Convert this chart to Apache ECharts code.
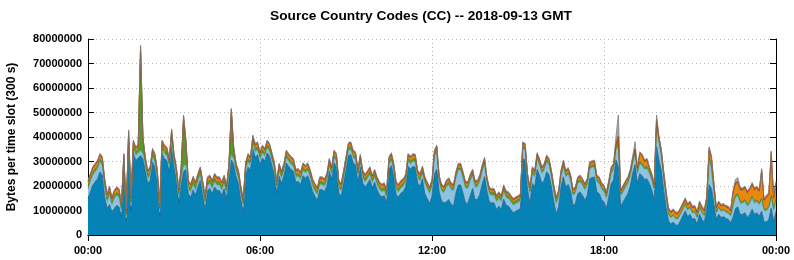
<!DOCTYPE html>
<html><head><meta charset="utf-8">
<script src="https://cdn.jsdelivr.net/npm/echarts@6/dist/echarts.min.js"></script>
<style>html,body{margin:0;padding:0;background:#fff}#c{width:794px;height:260px}</style>
</head><body><div id="c"></div>
<script>
const chartTitle = 'Source Country Codes (CC) -- 2018-09-13 GMT';
const yAxisName = 'Bytes per time slot (300 s)';
const xTickLabels = ['00:00', '06:00', '12:00', '18:00', '00:00'];
const slotMinutes = 5;
const slotCount = 289;

// Millions of bytes per 5-minute slot, 289 slots (00:00 .. 24:00), one row per hour
const blue = [
14.8,17.6,20.3,21.7,23,25.7,24.4,15.4,10.9,12.4,9.5,10.8,
12.1,11.4,7.4,27.7,5.9,36.8,10,33.2,30.4,31.4,32.4,30.9,
26.4,20.9,22.3,29.8,27.7,21.4,7.4,33.2,31.1,30.4,25.7,36.2,
27.7,22.3,13.4,20.8,25.9,26.7,16.8,15.4,18.4,16.2,19.6,22.3,
16.8,10.4,18.2,18.9,16.8,19.6,18.2,18.2,16.2,18.9,14.8,23.2,
30.6,28.9,23.7,20.9,14.4,9.4,24.3,27.7,26.4,35.2,31.8,32.7,
28.7,31.4,30.1,33.5,32.1,28.3,24.6,17.1,24,21,24,29.4,
28,26.7,26,21.5,21.9,20.6,24.2,23.3,24.2,21.5,17.8,15.8,
14.2,18.5,18.5,17.8,19.9,26,22.6,29.4,28,17.1,15.8,21.2,
26.7,32.4,32.8,29.4,28.7,21.9,27.7,21.2,19.6,21,22.6,19.2,
21.5,18.5,16.5,15.5,16.1,13.1,26.7,28.3,24,16.5,15.5,17.1,
17.8,19.6,28,26.9,28,27.7,21.2,19.9,22.9,16.9,14.9,12.8,
15.8,24.8,26.8,17.6,13.9,13.1,13.5,14.5,12.5,11.9,17,20.4,
20.4,17,13.1,12.9,16,19,14.5,14.5,16.6,20.7,23.8,17.9,
13.6,13.1,13.1,10.4,11.8,10.4,14.6,12.2,11.8,10.4,9.1,9.7,
10.2,10.8,31.1,30.6,18.3,12.8,21,19.6,26.7,24.4,21,22.4,
25.8,24.4,19.6,13.5,8.7,11.5,19.6,23.7,19.6,20.7,18,12.1,
12.8,16.9,17.6,16.2,14.2,16.2,23,23.4,23.7,17.6,16.9,14.5,
13.5,10.8,15.5,21,22.4,30.7,28,11.7,13.5,15.3,16.9,19.9,
25.1,28.7,21,25.1,24.1,22.7,22.9,21,18.3,14.2,36.1,30.5,
26.1,18.2,11.1,5.8,4.4,5.3,4,4,5.8,7.8,9.8,7.5,
8.5,6.4,6.7,4.4,8.5,6.4,5.1,10.5,20.5,18.9,12.6,6.4,
8.5,7.1,7.5,6.7,6.4,5.1,7.1,10.8,11.5,8.4,8.4,9.1,
7.1,8.4,10.5,8.4,9.1,7.7,9.7,5.4,5.3,6.4,10.9,5.5,
9.6
];
const lightBlue = [
4,4,4,4,4,4,4,4,2.5,4,2.5,4,
4,4,2,2,1,2,2,2,2,2,2,2,
2,2,2,2,2,2,2,2,2,2,2,2,
2,2,2,2,2,2,2,2,2,2,2,2,
2,2,2,2,2,2,2,2,2,2,2,2,
2,2,2,2,2,2,2,2,2,2,2,2,
2,2,2,2,2,2,2,2,2,2,2,2,
2,2,2,2,2,2,2,2,2,2,2,2,
2,2,2,2,2,2,2,2,2,2,2,2,
2,2,2,2,2,2,2,2,2,2,2,2,
2,2,2,2,2,2,2,2,2,2,2,2,
2,2,2,2,2,2,2,2,2,4,4,4,
4,7,7,4,4,4,6,6,6,6,6,6,
6,6,6,6,6,5,5,5,5,5,5,3,
3,3,3,3,3,3,3,3,3,3,3,3,
3,3,4,4,4,4,4,4,4,4,4,4,
4,4,4,4,4,4,4,4,4,4,4,4,
4,4,4,4,4,4,4,4,4,4,4,4,
4,4,4,4,4,4,8,4,4,4,4,4,
4,4,4,4,4,4,4,4,4,4,9,7,
6,5,4,2.5,2.5,2.5,2.5,2.5,2.5,2.5,2.5,2.5,
2.5,2.5,2.5,2.5,2.5,2.5,2.5,2.5,10,8,5,2.5,
2.5,2.5,2.5,2.5,2.5,2.5,4.5,4.5,4.5,4.5,4.5,4.5,
4.5,4.5,4.5,4.5,4.5,4.5,4.5,4.5,4.5,4.5,4.5,4.5,
4.5
];
const green = [
1.2,1.2,1.2,1.2,1.2,1.2,1.2,1.2,1.2,1.2,1.2,1.2,
1.2,1.2,1.5,1.5,1.5,2,1.5,1.5,1.5,1.5,41,5,
1.5,1.5,1.5,1.5,1.5,1.5,1.5,1.5,1.5,1.5,1.5,3,
1.5,1.5,1.5,3,19,8,1.5,1.5,1.5,1.5,1.5,1.5,
1.5,1.5,1.5,1.5,1.5,1.5,1.5,1.5,1.5,1.5,1.5,2,
17,3,1.5,1.5,1.5,1.5,1.5,1.5,1.5,1.5,1.5,1.2,
1.2,1.2,1.2,1.2,1.2,1.2,1.2,1.2,1.2,1.2,1.2,1.2,
1.2,1.2,1.2,1.2,1.2,1.2,1.2,1.2,1.2,1.2,1.2,1.2,
1.2,1.2,1.2,1.2,1.2,1.2,1.2,1.2,1.2,1.2,1.2,1.2,
1.2,1.2,1.2,1.2,1.2,1.2,1.2,1.2,1.2,1.2,1.2,1.2,
1.2,1.2,1.2,1.2,1.2,1.2,1.2,1.2,1.2,1.2,1.2,1.2,
1.2,1.2,1.2,1.2,1.2,1.2,1.2,1.2,1.2,1,1,1,
1,1,1,1,1,1,1,1,1,1,1,1,
1,1,1,1,1,1.2,1.2,1.2,1.2,1.2,1.2,1.2,
1.2,1.2,1.2,1.2,1.2,1.2,1.2,1.2,1.2,1.2,1.2,1.2,
1.2,1.2,1,1,1,1,1,1,1,1,1,1,
1,1,1,1,1,1,1,1,1,1,1,1,
1,1,1,1,1,1,1,1,1,1,1,1,
1,1,1,1,1,1,3,1,1,1,1,1,
1,1,1,1,1,1,1,1,1,1,1,1,
1,0.5,0.5,0.5,0.5,0.5,0.5,0.5,0.5,0.5,0.5,0.5,
0.5,0.5,0.5,0.5,0.5,0.5,0.5,0.5,1,1,0.8,0.5,
0.5,0.5,0.5,0.5,0.5,0.5,0.8,0.8,0.8,0.8,0.8,0.8,
0.8,0.8,0.8,0.8,0.8,0.8,0.8,0.8,0.8,0.8,0.8,0.8,
0.8
];
const orange = [
1.5,1.5,1.5,1.5,1.5,1.5,1.5,1.5,1.5,1.5,1.5,1.5,
1.5,1.5,1.2,1.2,1.2,1.2,1.2,1.2,1.2,1.2,1.2,1.2,
1.2,1.2,1.2,1.2,1.2,1.2,1.2,1.2,1.2,1.2,1.2,1.2,
1.2,1.2,1.2,1.2,1.2,1.2,1.2,1.2,1.2,1.2,1.2,1.2,
1.2,1.2,1.2,1.2,1.2,1.2,1.2,1.2,1.2,1.2,1.2,1.2,
1.2,1.2,1.2,1.2,1.2,1.2,1.2,1.2,1.2,1.2,1.2,1.2,
1.2,1.2,1.2,1.2,1.2,1.2,1.2,1.2,1.2,1.2,1.2,1.2,
1.2,1.2,1.2,1.2,1.2,1.2,1.2,1.2,1.2,1.2,1.2,1.2,
1.2,1.2,1.2,1.2,1.2,1.2,1.2,1.2,1.2,1.2,1.2,1.2,
1.2,1.2,1.2,1.2,1.2,1.2,1.2,1.2,1.2,1.2,1.2,1.2,
1.2,1.2,1.2,1.2,1.2,1.2,1.2,1.2,1.2,1.2,1.2,1.2,
1.2,1.2,1.2,1.2,1.2,1.2,1.2,1.2,1.2,1,1,1,
1,1,1,1,1,1,1,1,1,1,1,1,
1,1,1,1,1,0.8,0.8,0.8,0.8,0.8,0.8,0.8,
0.8,0.8,0.8,0.8,0.8,0.8,0.8,0.8,0.8,0.8,0.8,0.8,
0.8,0.8,1,1,1,1,1,1,1,1,1,1,
1,1,1,1,1,1,1,1,1,1,1,1,
1,1,1,1,1,1,1,1,1,1,1,1,
1,1,1,1,1,1,1,1,1,1,1,1,
1,1,1,3,3,2,2.5,1,1,1,1,1,
1,1.5,1.5,1.5,1.5,1.5,1.5,1.5,1.5,1.5,1.5,1.5,
1.5,1.5,1.5,1.5,1.5,1.5,1.5,1.5,3,3,2,1.5,
1.5,1.5,1.5,1.5,1.5,1.5,4.5,4.5,4.5,4.5,4.5,4.5,
4.5,4.5,4.5,4.5,4.5,4.5,11,3,4.5,4.5,17,4,
6
];
const red = [
0.4,0.4,0.4,0.4,0.4,0.4,0.4,0.4,0.4,0.4,0.4,0.4,
0.4,0.4,0.4,0.4,0.4,0.4,0.4,0.4,0.4,0.4,0.4,0.4,
0.4,0.4,0.4,0.4,0.4,0.4,0.4,0.4,0.4,0.4,0.4,0.4,
0.4,0.4,0.4,0.4,0.4,0.4,0.4,0.4,0.4,0.4,0.4,0.4,
0.4,0.4,0.4,0.4,0.4,0.4,0.4,0.4,0.4,0.4,0.4,0.4,
0.4,0.4,0.4,0.4,0.4,0.4,0.4,0.4,0.4,0.4,0.4,0.4,
0.4,0.4,0.4,0.4,0.4,0.4,0.4,0.4,0.4,0.4,0.4,0.4,
0.4,0.4,0.4,0.4,0.4,0.4,0.4,0.4,0.4,0.4,0.4,0.4,
0.4,0.4,0.4,0.4,0.4,0.4,0.4,0.4,0.4,0.4,0.4,0.4,
0.4,0.4,0.4,0.4,0.4,0.4,0.4,0.4,0.4,0.4,0.4,0.4,
0.4,0.4,0.4,0.4,0.4,0.4,0.4,0.4,0.4,0.4,0.4,0.4,
0.4,0.4,0.4,0.4,0.4,0.4,0.4,0.4,0.4,0.4,0.4,0.4,
0.4,0.4,0.4,0.4,0.4,0.4,0.4,0.4,0.4,0.4,0.4,0.4,
0.4,0.4,0.4,0.4,0.4,0.4,0.4,0.4,0.4,0.4,0.4,0.4,
0.4,0.4,0.4,0.4,0.4,0.4,0.4,0.4,0.4,0.4,0.4,0.4,
0.4,0.4,0.4,0.4,0.4,0.4,0.4,0.4,0.4,0.4,0.4,0.4,
0.4,0.4,0.4,0.4,0.4,0.4,0.4,0.4,0.4,0.4,0.4,0.4,
0.4,0.4,0.4,0.4,0.4,0.4,0.4,0.4,0.4,0.4,0.4,0.4,
0.4,0.4,0.4,0.4,0.4,0.4,0.4,0.4,0.4,0.4,0.4,0.4,
0.4,0.4,0.4,0.4,0.4,0.4,0.4,0.4,0.4,0.4,0.4,0.4,
0.4,0.4,0.4,0.4,0.4,0.4,0.4,0.4,0.4,0.4,0.4,0.4,
0.4,0.4,0.4,0.4,0.4,0.4,0.4,0.4,1,0.8,0.5,0.4,
0.4,0.4,0.4,0.4,0.4,0.4,0.6,0.6,0.6,0.6,0.6,0.6,
0.6,0.6,0.6,0.6,0.6,0.6,0.6,0.6,0.6,0.6,0.6,0.6,
0.6
];
const gray = [
0.5,0.5,0.5,0.5,0.5,0.5,0.5,0.5,0.5,0.5,0.5,0.5,
0.5,0.5,0.5,0.5,0.5,0.5,0.5,0.5,0.5,0.5,0.5,0.5,
0.5,0.5,0.5,0.5,0.5,0.5,0.5,0.5,0.5,0.5,0.5,0.5,
0.5,0.5,0.5,0.5,0.5,0.5,0.5,0.5,0.5,0.5,0.5,0.5,
0.5,0.5,0.5,0.5,0.5,0.5,0.5,0.5,0.5,0.5,0.5,0.5,
0.5,0.5,0.5,0.5,0.5,0.5,0.5,0.5,0.5,0.5,0.5,0.5,
0.5,0.5,0.5,0.5,0.5,0.5,0.5,0.5,0.5,0.5,0.5,0.5,
0.5,0.5,0.5,0.5,0.5,0.5,0.5,0.5,0.5,0.5,0.5,0.5,
0.5,0.5,0.5,0.5,0.5,0.5,0.5,0.5,0.5,0.5,0.5,0.5,
0.5,0.5,0.5,0.5,0.5,0.5,0.5,0.5,0.5,0.5,0.5,0.5,
0.5,0.5,0.5,0.5,0.5,0.5,0.5,0.5,0.5,0.5,0.5,0.5,
0.5,0.5,0.5,0.5,0.5,0.5,0.5,0.5,0.5,0.5,0.5,0.5,
0.5,0.5,0.5,0.5,0.5,0.5,0.5,0.5,0.5,0.5,0.5,0.5,
0.5,0.5,0.5,0.5,0.5,0.5,0.5,0.5,0.5,0.5,0.5,0.5,
0.5,0.5,0.5,0.5,0.5,0.5,0.5,0.5,0.5,0.5,0.5,0.5,
0.5,0.5,0.5,0.5,0.5,0.5,0.5,0.5,0.5,0.5,0.5,0.5,
0.5,0.5,0.5,0.5,0.5,0.5,0.5,0.5,0.5,0.5,0.5,0.5,
0.5,0.5,0.5,0.5,0.5,0.5,0.5,0.5,0.5,0.5,0.5,0.5,
0.5,0.5,0.5,0.5,0.5,3,8.6,0.5,0.5,0.5,0.5,0.5,
0.5,3,0.5,0.5,0.5,0.5,0.5,0.5,0.5,0.5,1.5,0.5,
0.5,0.5,0.5,0.5,0.5,0.5,0.5,0.5,0.5,0.5,0.5,0.5,
0.5,0.5,0.5,0.5,0.5,0.5,0.5,0.5,0.5,0.5,0.5,0.5,
0.5,0.5,0.5,0.5,0.5,0.5,0.5,1.5,1.5,0.5,0.5,0.5,
0.5,0.5,0.5,0.5,0.5,0.5,0.5,0.5,0.5,0.5,0.5,0.5,
0.5
];

// time-slot categories 00:00, 00:05, ... 24:00
const slots = [];
for (let i = 0; i < slotCount; i++) {
  const m = i * slotMinutes;
  slots.push(String(Math.floor(m / 60)).padStart(2, '0') + ':' + String(m % 60).padStart(2, '0'));
}

const FONT = '"Liberation Sans", Arial, sans-serif';
const layers = [
  { name: 'blue',      data: blue,      fill: '#0583b6', line: '#1d5d85' },
  { name: 'lightBlue', data: lightBlue, fill: '#8ec3e0', line: '#6fa9cc' },
  { name: 'green',     data: green,     fill: '#529b2d', line: '#3f7f20' },
  { name: 'orange',    data: orange,    fill: '#e8890f', line: '#cf7300' },
  { name: 'red',       data: red,       fill: '#b8431c', line: '#933014' },
  { name: 'gray',      data: gray,      fill: '#a8a8a8', line: '#7d7d7d' }
];

const chart = echarts.init(document.getElementById('c'), null, { renderer: 'canvas' });
const axisText = { color: '#000', fontFamily: FONT, fontWeight: 'bold', fontSize: 11 };
const every6h = (idx) => idx % 72 === 0;
chart.setOption({
  animation: false,
  backgroundColor: '#fff',
  title: {
    text: chartTitle, left: 416, top: 4, textAlign: 'center',
    textStyle: { color: '#000', fontFamily: FONT, fontWeight: 'bold', fontSize: 13.7 }
  },
  grid: { left: 88, right: 18, top: 39, bottom: 25, containLabel: false, outerBoundsMode: 'none' },
  xAxis: [
    { type: 'category', position: 'bottom', data: slots, boundaryGap: false,
      axisLine: { show: true, lineStyle: { color: '#000', width: 1 } },
      axisTick: { show: true, inside: true, length: 6, interval: every6h, lineStyle: { color: '#000' } },
      axisLabel: Object.assign({ margin: 10, interval: every6h, formatter: (v, idx) => xTickLabels[Math.round(idx / 72)] }, axisText),
      splitLine: { show: true, interval: every6h, lineStyle: { color: '#b4b4b4', type: [1, 3], width: 1 } } },
    { type: 'category', position: 'top', data: slots, boundaryGap: false,
      axisLine: { show: true, lineStyle: { color: '#000', width: 1 } },
      axisTick: { show: true, inside: true, length: 6, interval: every6h, lineStyle: { color: '#000' } },
      axisLabel: { show: false }, splitLine: { show: false } }
  ],
  yAxis: [
    { type: 'value', position: 'left', min: 0, max: 80000000, interval: 10000000,
      name: yAxisName, nameLocation: 'middle', nameGap: 70, nameRotate: 90,
      nameTextStyle: { color: '#000', fontFamily: FONT, fontWeight: 'bold', fontSize: 12 },
      axisLine: { show: true, lineStyle: { color: '#000', width: 1 } },
      axisTick: { show: true, inside: true, length: 6, lineStyle: { color: '#000' } },
      axisLabel: Object.assign({ margin: 6, formatter: v => String(v) }, axisText),
      splitLine: { show: true, lineStyle: { color: '#b4b4b4', type: [1, 3], width: 1 } } },
    { type: 'value', position: 'right', min: 0, max: 80000000, interval: 10000000,
      axisLine: { show: true, lineStyle: { color: '#000', width: 1 } },
      axisTick: { show: true, inside: true, length: 6, lineStyle: { color: '#000' } },
      axisLabel: { show: false }, splitLine: { show: false } }
  ],
  series: layers.map(l => ({
    type: 'line', name: l.name, stack: 'cc', xAxisIndex: 0, yAxisIndex: 0,
    symbol: 'none', showSymbol: false, silent: true, z: 2,
    data: l.data.map(v => v * 1e6),
    lineStyle: { width: 0.8, color: l.line },
    itemStyle: { color: l.fill },
    areaStyle: { color: l.fill, opacity: 1 }
  }))
});
</script>
</body></html>
